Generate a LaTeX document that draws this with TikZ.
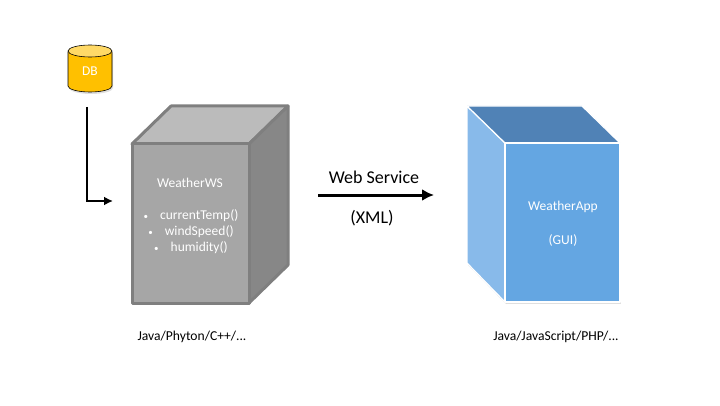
\documentclass[tikz,border=0pt]{standalone}
\usepackage{fontspec}
\setmainfont{Carlito}
\usetikzlibrary{shadows, arrows.meta}
\definecolor{dbfill}{HTML}{FFC000}
\definecolor{dbtop}{HTML}{FFD966}
\definecolor{wsedge}{HTML}{7F7F7F}
\definecolor{wsfront}{HTML}{A6A6A6}
\definecolor{wstop}{HTML}{BBBBBB}
\definecolor{wsside}{HTML}{878787}
\definecolor{appfront}{HTML}{64A6E2}
\definecolor{apptop}{HTML}{5082B6}
\definecolor{appside}{HTML}{88BAEA}
\newcommand{\smallbullet}{{\fontsize{9}{9}\selectfont\textbullet}\hspace{12pt}}
\tikzset{
    wsface/.style={draw=wsedge, line width=3pt, line join=round},
    appface/.style={draw=white, line width=1.2pt, line join=round},
    softshadow/.style={drop shadow={shadow xshift=1pt, shadow yshift=-2pt, opacity=0.25}},
    facetext/.style={text=white, font=\fontsize{13.5}{16}\selectfont, align=center, inner sep=0pt},
    bluetext/.style={font=\fontsize{18}{20}\selectfont, inner sep=0pt},
    caption/.style={font=\fontsize{13.6}{15}\selectfont, inner sep=0pt},
    flow/.style={-{Latex[length=12pt, width=12pt]}, line width=3pt},
    thinflow/.style={-{Latex[length=9pt, width=9pt]}, line width=2.8pt}
}
\begin{document}
\begin{tikzpicture}[x=1pt, y=1pt]
    \useasboundingbox (0,0) rectangle (720,405);
    % database
    \path[fill=dbfill, draw=black, line width=0.6pt, softshadow] (68,353) -- (68,319) arc[start angle=180, end angle=360, x radius=22, y radius=6] -- (112,353) arc[start angle=0, end angle=180, x radius=22, y radius=6];
    \path[fill=dbtop, draw=black, line width=0.6pt] (90,354) ellipse[x radius=22, y radius=6];
    \node (db) at (90,334) [facetext] {DB};
    \coordinate (dbout) at (87,298);
    \coordinate (wsin) at (113,204);
    \draw[thinflow] (dbout) |- (wsin);
    % web service box
    \draw[wsface, fill=wstop] (132,261) -- (171,299) -- (288,299) -- (249,261) -- cycle;
    \draw[wsface, fill=wsside] (249,261) -- (288,299) -- (288,140) -- (249,102) -- cycle;
    \node (wsfront) at (190.5,181.5) [wsface, fill=wsfront, minimum width=117pt, minimum height=159pt, inner sep=0pt] {};
    \node (wsname) at (190,222) [facetext] {WeatherWS};
    \node (wsmeth) at (191,173) [facetext] {\smallbullet currentTemp()\\\smallbullet windSpeed()\\\smallbullet humidity()};
    \node (wslang) at (192,68.5) [caption] {Java/Phyton/C++/...};
    % arrow
    \node (wslabel) at (374,228) [bluetext] {Web Service};
    \node (xmllabel) at (372,187) [bluetext] {(XML)};
    \coordinate (wsout) at (318,210);
    \coordinate (appin) at (434,210);
    \draw[flow] (wsout) -- (appin);
    % application box
    \draw[appface, fill=appside, softshadow] (467,299) -- (505,262) -- (505,103) -- (467,142) -- cycle;
    \draw[appface, fill=apptop] (467,299) -- (582,299) -- (620,262) -- (505,262) -- cycle;
    \node (appfront) at (562.5,182.5) [appface, fill=appfront, softshadow, minimum width=115pt, minimum height=159pt, inner sep=0pt] {};
    \node (appname) at (563,198) [facetext] {WeatherApp};
    \node (appgui) at (563,165) [facetext] {(GUI)};
    \node (applang) at (556,68.5) [caption] {Java/JavaScript/PHP/...};
\end{tikzpicture}
\end{document}
